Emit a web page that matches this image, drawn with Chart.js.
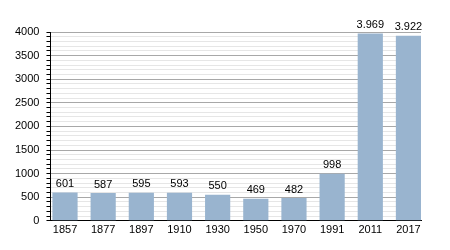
<!DOCTYPE html>
<html>
<head>
<meta charset="utf-8">
<script src="https://cdn.jsdelivr.net/npm/chart.js@4.4.1/dist/chart.umd.min.js"></script>
<style>
  html, body { margin: 0; padding: 0; background: #fff; }
  #wrap { width: 450px; height: 250px; }
</style>
</head>
<body>
<div id="wrap"><canvas id="popchart" width="450" height="250"></canvas></div>
<script>
// population by census year
const years = ['1857', '1877', '1897', '1910', '1930', '1950', '1970', '1991', '2011', '2017'];
const population = [601, 587, 595, 593, 550, 469, 482, 998, 3969, 3922];
const yTicks = [0, 500, 1000, 1500, 2000, 2500, 3000, 3500, 4000];

function fmt(v) {
    return String(v).replace(/\B(?=(\d{3})+(?!\d))/g, '.');
}

const barLabels = {
    id: 'barLabels',
    afterDatasetsDraw(chart) {
        const ctx = chart.ctx;
        const meta = chart.getDatasetMeta(0);
        ctx.save();
        ctx.font = '11px "Liberation Sans", Arial, sans-serif';
        ctx.fillStyle = '#000';
        ctx.textAlign = 'center';
        ctx.textBaseline = 'bottom';
        meta.data.forEach(function (bar, i) {
            ctx.fillText(fmt(population[i]), bar.x, bar.y - 3);
        });
        ctx.restore();
    }
};

let ctx = document.getElementById('popchart').getContext('2d');
let popchart = new Chart(ctx, {
    type: 'bar',
    data: {
        labels: years,
        datasets: [{
            data: population,
            backgroundColor: '#99b4cf',
            borderWidth: 0,
            barPercentage: 0.66,
            categoryPercentage: 1.0
        }]
    },
    options: {
        responsive: false,
        animation: false,
        layout: { padding: { left: 8, right: 29, top: 32, bottom: 10 } },
        plugins: {
            legend: { display: false },
            tooltip: { enabled: false }
        },
        scales: {
            x: {
                // bars sit a little left of centre in the original, first bar hugs the axis
                afterBuildTicks: function (scale) {
                    scale._startValue = -0.381;
                    scale._valueRange = 9.71;
                },
                grid: { display: false, drawTicks: false },
                border: { color: '#000', width: 1 },
                ticks: {
                    color: '#000',
                    padding: 3,
                    font: { family: '"Liberation Sans", Arial, sans-serif', size: 11 }
                }
            },
            y: {
                min: 0,
                max: 4000,
                border: { color: '#000', width: 1 },
                grid: {
                    color: function (c) {
                        return yTicks.includes(c.tick.value) ? '#a8a8a8' : '#e6e6e6';
                    },
                    tickColor: '#000',
                    tickLength: 4
                },
                ticks: {
                    stepSize: 100,
                    autoSkip: false,
                    color: '#000',
                    padding: 7,
                    font: { family: '"Liberation Sans", Arial, sans-serif', size: 11 },
                    callback: function (v) {
                        return yTicks.includes(v) ? String(v) : '';
                    }
                }
            }
        }
    },
    plugins: [barLabels]
});
</script>
</body>
</html>
